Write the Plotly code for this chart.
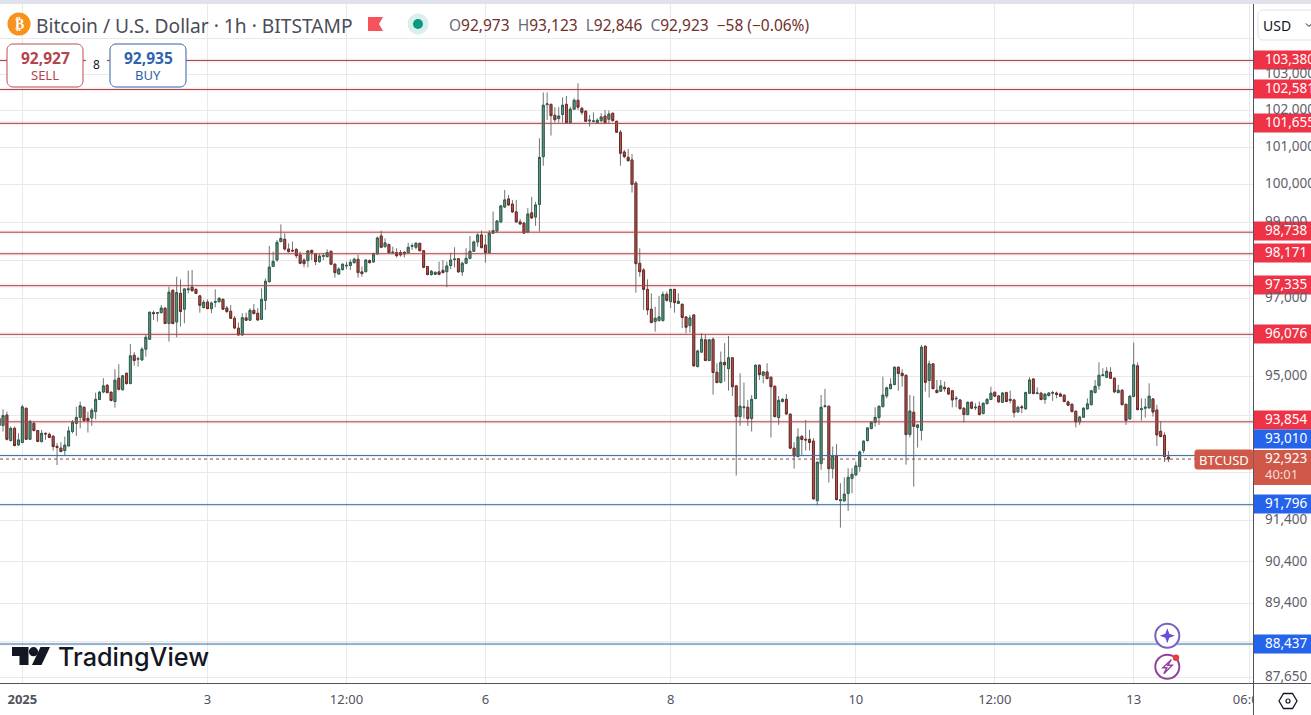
import math
import pandas as pd
import plotly.graph_objects as go

OPEN = [93760,93760,94025,93385,93690,93275,
93335,94195,93415,93815,93635,93360,93565,93540,93490,93240,93195,93135,93250,93610,
93815,93965,94220,93940,93950,94110,94415,94605,94775,94600,
94365,94955,94665,95080,94820,95540,95440,95420,95695,95950,
96635,96620,96635,96750,96355,97215,96395,97135,96725,97230,
97300,97240,97070,96765,96910,96740,96905,96920,96980,96755,
96670,96490,96235,96060,96500,96440,96695,96620,96465,96955,
97440,97835,98005,98490,98550,98295,98260,98285,
98140,98005,97990,98260,98165,97965,98105,98095,98235,97895,
97640,97755,97850,97860,97935,98025,97695,97700,97990,97955,
98165,98640,98355,98410,98190,98200,98200,98210,98200,98365,
98340,98445,98250,97835,97625,97630,97695,97735,97700,97860,
98015,98040,97695,97920,98050,98235,98480,98665,98400,98200,98710,
98770,99010,99405,99620,99485,99275,99010,98980,98745,99250,99140,
99475,100755,102165,102175,101875,101785,101895,102175,101675,102040,
102285,102065,101985,101720,101705,101675,101730,101855,101765,101930,
101710,101415,100880,100735,100665,100040,97920,97745,97240,96725,
96405,96430,96430,97110,96920,97240,96875,96850,
96525,96300,96575,95250,95620,95935,95405,95950,95105,94845,
95360,95200,95475,94760,93985,94210,94220,93935,94440,95285,
95030,95115,94980,94750,93960,94365,94420,94045,93195,92985,
93490,93415,93415,93370,91895,92810,94235,94245,92685,93000,
91895,91890,92070,92440,92530,92735,93135,93385,93685,93840,
93960,94235,94505,94690,94795,95235,95080,95030,93535,94095,
93710,93640,95770,94895,95320,
94650,94625,94725,94700,94635,94430,94405,94195,94035,94345,
94205,94245,94060,94310,94415,94600,94505,94345,94590,94420,
94405,94100,94230,94180,94575,94935,94565,94575,94415,94515,
94575,94580,94555,94525,94355,94295,94120,93850,93970,94180,
94285,94590,94765,95020,94980,95105,94955,94590,94650,94295,
93925,94490,95270,94160,94195,94205,94430,94150,93615,93515,92973]

HIGH = [93985,94170,94110,93735,93735,93565,
94280,94210,93900,93865,93650,93650,93585,93585,93525,93320,
93345,93485,93735,93900,94235,94365,94235,94110,94195,94590,
94630,94955,94810,94615,95185,95310,95040,95100,95830,95620,
95505,95745,96060,96665,96690,96635,96835,96775,97310,97240,
97570,97500,97265,97730,97745,97265,97085,96965,96980,96920,
97240,97035,97000,96810,96835,96550,96380,96620,96635,96750,
96860,96750,97265,97525,98375,98225,98530,98945,98710,98445,
98490,98315,
98225,98050,98270,98270,98180,98165,98180,98285,98250,97920,
97815,97920,97965,98025,98070,98140,97835,98025,98025,98200,
98620,98780,98575,98445,98355,98315,98270,98225,98460,98445,
98480,98460,98270,97850,97745,97700,97965,98005,97965,98200,
98340,98050,97965,98315,98640,98515,98710,98780,98665,98795,99285,
99060,99460,99860,99725,99595,99595,99090,99010,99380,99675,99540,
101250,102500,102500,102185,102095,102095,102365,102405,102110,102340,
102750,102110,102020,101885,101955,101795,101930,102020,102005,101950,
101730,101475,100935,100960,100825,100100,98315,97790,97500,97135,
96790,97070,97180,97180,97240,97240,97135,96875,
96550,96575,96600,95680,96105,96060,95950,95995,95335,95635,
95850,96035,95490,94785,95080,94845,94405,94530,95305,95305,
95125,95335,94995,94770,94505,94445,94555,94070,93345,93690,
93515,93900,93650,93445,92860,94530,94685,94260,93235,93300,
92325,92470,92695,92695,92860,93135,93385,93715,93875,94220,
94260,94995,94740,94955,95250,95250,95185,95045,94530,94505,
93800,95805,95790,95405,95335,
94910,94910,94870,94725,94660,94505,94420,94220,94365,94365,
94320,94365,94340,94445,94740,94615,94530,94600,94615,94640,
94420,94255,94280,94615,94980,94955,94725,94610,94575,94600,
94635,94615,94590,94540,94390,94320,94135,93995,94220,94445,
94660,94910,95360,95210,95235,95235,94970,94785,94675,94310,
94515,95865,95355,94445,94445,94825,94445,94280,93875,93590,93123]

LOW = [93735,93610,93385,93360,93235,93250,
93320,93400,93400,93610,93345,93335,93400,93445,93135,92775,
93095,93025,93235,93565,93500,93690,93860,93585,93750,93915,
94405,94575,94575,94365,94210,94640,94640,94790,94800,95275,
95250,95405,95505,95935,96445,96405,96620,96335,95890,96335,
96000,96275,96360,97135,97180,97120,96635,96750,96725,96620,
96775,96895,96705,96620,96475,96205,96045,96045,96420,96420,
96595,96430,96445,96705,97415,97820,97965,98470,98250,98200,
98225,98050,
97895,97815,97815,98005,97875,97935,98005,98075,97875,97545,
97615,97730,97765,97745,97920,97545,97570,97685,97920,97935,
98140,98315,98340,98180,98180,98075,98095,98070,98180,98270,
98285,98235,97790,97605,97595,97615,97605,97660,97295,97765,
97815,97675,97590,97895,98025,98220,98355,98315,97935,98180,98690,
98715,98980,99380,99435,99250,98980,98930,98690,98715,99090,98905,
98755,100510,101750,101325,101675,101675,101675,101660,101660,102020,
102020,101885,101695,101570,101675,101660,101675,101660,101660,101705,
101405,100510,100710,100620,99790,97155,97570,96705,96575,96360,
96145,96405,96405,96920,96750,96635,96860,96235,
96105,96120,95250,95235,95600,95390,95390,94540,94825,94825,
94870,94640,94505,92515,93750,93940,93750,93610,94420,94910,
94825,94930,93460,93965,93775,94340,94035,93175,92685,92970,
93025,93135,93135,91915,91780,92655,94220,92340,92440,91905,
91235,91875,91640,92075,92505,92610,93070,93360,93665,93735,
93775,94220,94445,94675,94775,94640,94740,92785,93460,92240,
93210,93385,94615,94465,94675,
94575,94610,94615,94530,94220,94220,94150,93835,94020,94170,
94150,94020,94045,94295,94405,94480,94340,94330,94345,94320,
93960,94085,94070,94160,94555,94550,94555,94395,94305,94490,
94380,94445,94480,94345,94255,94095,93715,93775,93950,94160,
94270,94575,94660,95015,94955,94935,94575,94575,94270,93775,
93900,94475,94145,93885,93960,94185,93985,93250,93465,92850,92846]

CLOSE = [93940,94010,93415,93690,93260,93400,
94230,93415,93865,93635,93360,93565,93550,93460,93235,93210,
93110,93270,93625,93840,93965,94255,93885,93885,94145,94420,
94600,94760,94590,94390,94905,94675,95015,94820,95525,95405,
95455,95695,96000,96645,96610,96635,96755,96355,97165,96355,
97155,96665,97250,97250,97205,97135,96825,96905,96740,96885,
96920,97005,96725,96665,96490,96240,96060,96505,96440,96695,
96610,96445,96980,97450,97820,97970,98470,98575,98295,98225,
98245,98120,
97920,97910,98245,98200,97965,98110,98120,98200,97895,97675,
97770,97895,97865,97945,98025,97675,97650,98005,97935,98165,
98585,98340,98455,98200,98210,98120,98140,98165,98340,98385,
98445,98250,97815,97625,97710,97685,97630,97675,97850,98005,
98030,97695,97920,98050,98235,98480,98665,98330,98200,98710,98780,
99035,99435,99595,99460,99275,99010,98955,98715,99220,99115,99460,
100735,102150,102185,101865,101755,101855,102150,101675,102040,102285,
102095,101955,101710,101740,101720,101740,101830,101675,101910,101730,
101415,100845,100755,100645,100010,97910,97700,97240,96705,96380,
96490,96525,97110,96955,97240,96895,96930,96510,
96260,96500,95270,95650,95950,95405,95935,95100,94845,95360,
95295,95475,94740,93985,94245,94230,93935,94420,95285,95045,
95115,94945,94740,93985,94395,94420,94050,93195,93000,93475,
93410,93400,93335,91940,92845,94220,94255,92685,93000,91920,
91915,92055,92470,92545,92755,93100,93370,93700,93840,93965,
94245,94525,94710,94800,95235,95075,95020,93535,94125,93740,
93775,95745,94850,95320,94690,
94590,94760,94690,94555,94405,94445,94185,94035,94345,94195,
94220,94035,94320,94420,94575,94500,94355,94580,94365,94395,
94085,94220,94210,94590,94910,94565,94580,94415,94550,94580,
94590,94540,94500,94365,94270,94110,93850,93975,94195,94305,
94635,94750,95030,95040,95130,94955,94610,94650,94285,93890,
94500,95295,94160,94180,94220,94500,94100,93525,93485,92985,92923]

FIRST_BAR = "2024-12-31 18:00"
RED_LEVELS = [103380, 102581, 101655, 98738, 98171, 97335, 96076, 93854]
BLUE_LEVELS = [93010, 91796, 88437]
LAST_PRICE = 92923
PRICE_TICKS = [104000, 103000, 102000, 101000, 100000, 99000, 98000, 97000, 96000, 95000,
               94000, 92600, 91400, 90400, 89400, 88500, 87650]
PRICE_TICK_TEXT = ["", "103,000", "102,000", "101,000", "100,000", "99,000", "", "97,000", "", "95,000",
                   "", "", "91,400", "90,400", "89,400", "", "87,650"]
TIME_TICKS = ["2025-01-01", "2025-01-03", "2025-01-04 12:00", "2025-01-06", "2025-01-08",
              "2025-01-10", "2025-01-11 12:00", "2025-01-13", "2025-01-14 06:00"]
TIME_TICK_TEXT = ["<b>2025</b>", "3", "12:00", "6", "8", "10", "12:00", "13", "06:00"]
TITLE = "Bitcoin / U.S. Dollar · 1h · BITSTAMP"
SELL, BUY, SPREAD = "92,927", "92,935", "8"

FONT = "Noto Sans"
W, TOP, BOT = 1253.0, 4.0, 683.0
def xp(x): return x / W
def yp(y): return (BOT - y) / (BOT - TOP)

shapes, notes = [], []
def P(d, fill=None, line=None, lw=1):
    s = dict(type="path", path=d, xref="paper", yref="paper", layer="above", line=dict(width=lw if line else 0, color=line or "rgba(0,0,0,0)"))
    if fill: s["fillcolor"] = fill
    shapes.append(s)
def pt(x, y): return f"{xp(x):.5f},{yp(y):.5f}"
def poly(pts, close=True): return "M" + " L".join(pt(*p) for p in pts) + (" Z" if close else "")
def rect(x0, y0, x1, y1, fill, line=None, lw=1):
    shapes.append(dict(type="rect", xref="paper", yref="paper", layer="above", x0=xp(x0), x1=xp(x1), y0=yp(y0), y1=yp(y1),
                       fillcolor=fill, line=dict(width=lw if line else 0, color=line or "rgba(0,0,0,0)")))
def circ(cx, cy, r, fill=None, line=None, lw=1):
    shapes.append(dict(type="circle", xref="paper", yref="paper", layer="above", x0=xp(cx-r), x1=xp(cx+r), y0=yp(cy+r), y1=yp(cy-r),
                       fillcolor=fill or "rgba(0,0,0,0)", line=dict(width=lw if line else 0, color=line or "rgba(0,0,0,0)")))
def rrect(x0, y0, x1, y1, r, fill, line):
    k = r * 0.45
    d = (f"M{pt(x0+r,y0)} L{pt(x1-r,y0)} C{pt(x1-k,y0)} {pt(x1,y0+k)} {pt(x1,y0+r)} L{pt(x1,y1-r)} C{pt(x1,y1-k)} {pt(x1-k,y1)} {pt(x1-r,y1)} "
         f"L{pt(x0+r,y1)} C{pt(x0+k,y1)} {pt(x0,y1-k)} {pt(x0,y1-r)} L{pt(x0,y0+r)} C{pt(x0,y0+k)} {pt(x0+k,y0)} {pt(x0+r,y0)} Z")
    P(d, fill, line, 1)
def txt(x, y, t, size=13, color="#50535e", anchor="left", family=FONT, weight=None):
    f = dict(size=size, color=color, family=family)
    if weight: f["weight"] = weight
    notes.append(dict(xref="paper", yref="paper", x=xp(x), y=yp(y), text=t, showarrow=False, xanchor=anchor, yanchor="middle",
                      borderpad=0, borderwidth=0, font=f))

# horizontal price levels
for lv, core, halo in [(v, "#a0474b", "rgba(242,54,69,0.09)") for v in RED_LEVELS] + [(v, "#3f6f93", "rgba(41,98,255,0.06)") for v in BLUE_LEVELS]:
    shapes.append(dict(type="line", xref="paper", yref="y", x0=0, x1=1, y0=lv, y1=lv, layer="above", line=dict(color=halo, width=4)))
    shapes.append(dict(type="line", xref="paper", yref="y", x0=0, x1=1, y0=lv, y1=lv, layer="above", line=dict(color=core, width=1)))
shapes.append(dict(type="line", xref="paper", yref="y", x0=0, x1=xp(1195), y0=LAST_PRICE, y1=LAST_PRICE, layer="above",
                   line=dict(color="#8c4a40", width=1, dash="dot")))

# chrome
rect(0, 0, 1311, TOP, "#e0e3eb")
rect(1254, TOP, 1311, 715, "#ffffff")
shapes.append(dict(type="line", xref="paper", yref="paper", layer="above", x0=xp(1253.5), x1=xp(1253.5), y0=yp(TOP), y1=yp(715), line=dict(color="#50535e", width=1)))
shapes.append(dict(type="line", xref="paper", yref="paper", layer="above", x0=0, x1=xp(1311), y0=yp(683.5), y1=yp(683.5), line=dict(color="#50535e", width=1)))

# price axis tick labels above the white panel
for v, t in zip(PRICE_TICKS, PRICE_TICK_TEXT):
    if t:
        y = 59 + 3738 * math.log(103380 / v)
        txt(1265, y, t, 13.5, "#5d606b")

# USD box
rrect(1258, 10, 1330, 40, 5, "#ffffff", "#e0e3eb")
txt(1263, 25, "USD", 14, "#131722")
P(poly([(1306, 23.5), (1309, 26.5), (1312, 23.5)], False), None, "#131722", 1)

# price labels
RED, BLUE = "#ee3346", "#2563eb"
LABELS = [(103380, 60, RED), (102581, 89, RED), (101655, 123, RED), (98738, 231, RED), (98171, 253, RED),
          (97335, 285, RED), (96076, 334, RED), (93854, 420, RED), (93010, 439, BLUE), (91796, 504, BLUE), (88437, 644, BLUE)]
for v, y, c in LABELS:
    rect(1254, y - 9.5, 1311, y + 9.5, c)
    txt(1265, y - 1.2, f"{v:,}", 13.5, "#ffffff")
rect(1254, 450, 1311, 485, "#cf5848")
txt(1265, 458, f"{LAST_PRICE:,}", 13.5, "#ffffff")
txt(1265, 474, "40:01", 13, "#f6dcd7")
rrect(1195, 450, 1253, 469, 2, "#cf5848", "#cf5848")
txt(1224, 459.5, "BTCUSD", 13, "#ffffff", "center")

# hexagon settings
hx, hy = 1288, 701
P(poly([(hx-9, hy), (hx-4.5, hy-7.5), (hx+4.5, hy-7.5), (hx+9, hy), (hx+4.5, hy+7.5), (hx-4.5, hy+7.5)]), None, "#131722", 1.3)
circ(hx, hy, 2, None, "#131722", 1.2)

# header
circ(19, 24, 11.5, "#f7931a")
txt(19, 24, "₿", 14, "#ffffff", "center", "DejaVu Sans", 700)
txt(36, 25, TITLE, 19.2, "#4a4d57")
P(poly([(368, 17), (383, 17), (379, 24), (383, 31), (368, 31)]), "#f5525c")
circ(418, 24, 10.5, "#d9efec")
circ(418, 24, 5, "#089981")
G, N = "#6a6d78", "#70302c"
def sp(l, v): return f"<span style='color:{G}'>{l}</span>{v}"
txt(449, 25, sp("O", "92,973") + "  " + sp("H", "93,123") + "  " + sp("L", "92,846") + "  " + sp("C", "92,923") + "  −58 (−0.06%)", 15.5, N)

# sell / buy
rrect(7, 44, 83, 87, 6, "#ffffff", "#b84d55")
txt(45, 58, SELL, 15.5, "#b5434c", "center", FONT, 700)
txt(45, 75, "SELL", 13, "#b5434c", "center")
rect(86, 55, 107, 73, "#ffffff")
txt(96.5, 64.5, SPREAD, 12, "#131722", "center")
rrect(110, 44, 186, 87, 6, "#ffffff", "#2f62ad")
txt(148, 58, BUY, 15.5, "#2f62ad", "center", FONT, 700)
txt(148, 75, "BUY", 13, "#2f62ad", "center")

# logo
INK = "#131722"
P(poly([(12, 647), (28.5, 647), (28.5, 665), (19.5, 665), (19.5, 656), (12, 656)]), INK)
circ(33.5, 651.7, 4.6, INK)
P(poly([(40.5, 647), (50, 647), (41.5, 665), (32, 665)]), INK)
txt(58, 657, "TradingView", 25.2, INK, "left", "Inter", 500)

# assistant icons
circ(1167.3, 635.7, 12, "#ffffff", "#7a5fc4", 2)
cx, cy = 1167.3, 635.7
P(poly([(cx, cy-7.5), (cx+2, cy-2), (cx+7.5, cy), (cx+2, cy+2), (cx, cy+7.5), (cx-2, cy+2), (cx-7.5, cy), (cx-2, cy-2)]), "#6d4ad8")
circ(1167.3, 666.7, 12, "#ffffff", "#93409f", 2)
cx, cy = 1167.3, 666.7
P(poly([(cx+4, cy-7), (cx-4.5, cy+1), (cx-0.5, cy+1), (cx-3.5, cy+7), (cx+5, cy-1.5), (cx+0.5, cy-1.5)]), None, "#93409f", 1.4)
circ(1176, 657.7, 3.2, "#e53e3e")

bar_times = pd.date_range(FIRST_BAR, periods=len(OPEN), freq="h")
body_high = [max(a, b) for a, b in zip(OPEN, CLOSE)]
body_low = [min(a, b) for a, b in zip(OPEN, CLOSE)]

WICK = "#707374"
fig = go.Figure()
fig.add_trace(go.Candlestick(x=bar_times, open=OPEN, high=HIGH, low=LOW, close=CLOSE, whiskerwidth=0, hoverinfo="skip", showlegend=False,
                             increasing=dict(line=dict(color=WICK, width=1), fillcolor=WICK),
                             decreasing=dict(line=dict(color=WICK, width=1), fillcolor=WICK)))
fig.add_trace(go.Candlestick(x=bar_times, open=OPEN, high=body_high, low=body_low, close=CLOSE, whiskerwidth=0, hoverinfo="skip", showlegend=False,
                             increasing=dict(line=dict(color="#2f5f4e", width=1), fillcolor="#5f9f83"),
                             decreasing=dict(line=dict(color="#6f2a28", width=1), fillcolor="#ba574f")))
GRID = "#e9e9ec"
fig.update_layout(
    width=1311, height=715, margin=dict(l=0, r=58, t=4, b=32), paper_bgcolor="#ffffff", plot_bgcolor="#ffffff",
    showlegend=False, font=dict(family=FONT), shapes=shapes, annotations=notes, dragmode=False,
    xaxis=dict(type="date", range=["2024-12-31 18:13", "2025-01-14 06:55"], rangeslider=dict(visible=False),
               tickmode="array", tickvals=TIME_TICKS, ticktext=TIME_TICK_TEXT, ticks="", ticklabelstandoff=7,
               tickfont=dict(size=13, color="#50535e", family=FONT), showgrid=True, gridcolor=GRID, gridwidth=1, zeroline=False, showline=False),
    yaxis=dict(type="log", side="right", range=[math.log10(87519), math.log10(104954)], tickmode="array",
               tickvals=PRICE_TICKS, ticktext=[""] * len(PRICE_TICKS), ticks="", showgrid=True, gridcolor=GRID, gridwidth=1,
               zeroline=False, showline=False),
)
fig.write_html("out.html", config=dict(displayModeBar=False),
               post_script="document.body.style.margin='0';document.body.style.overflow='hidden';")
